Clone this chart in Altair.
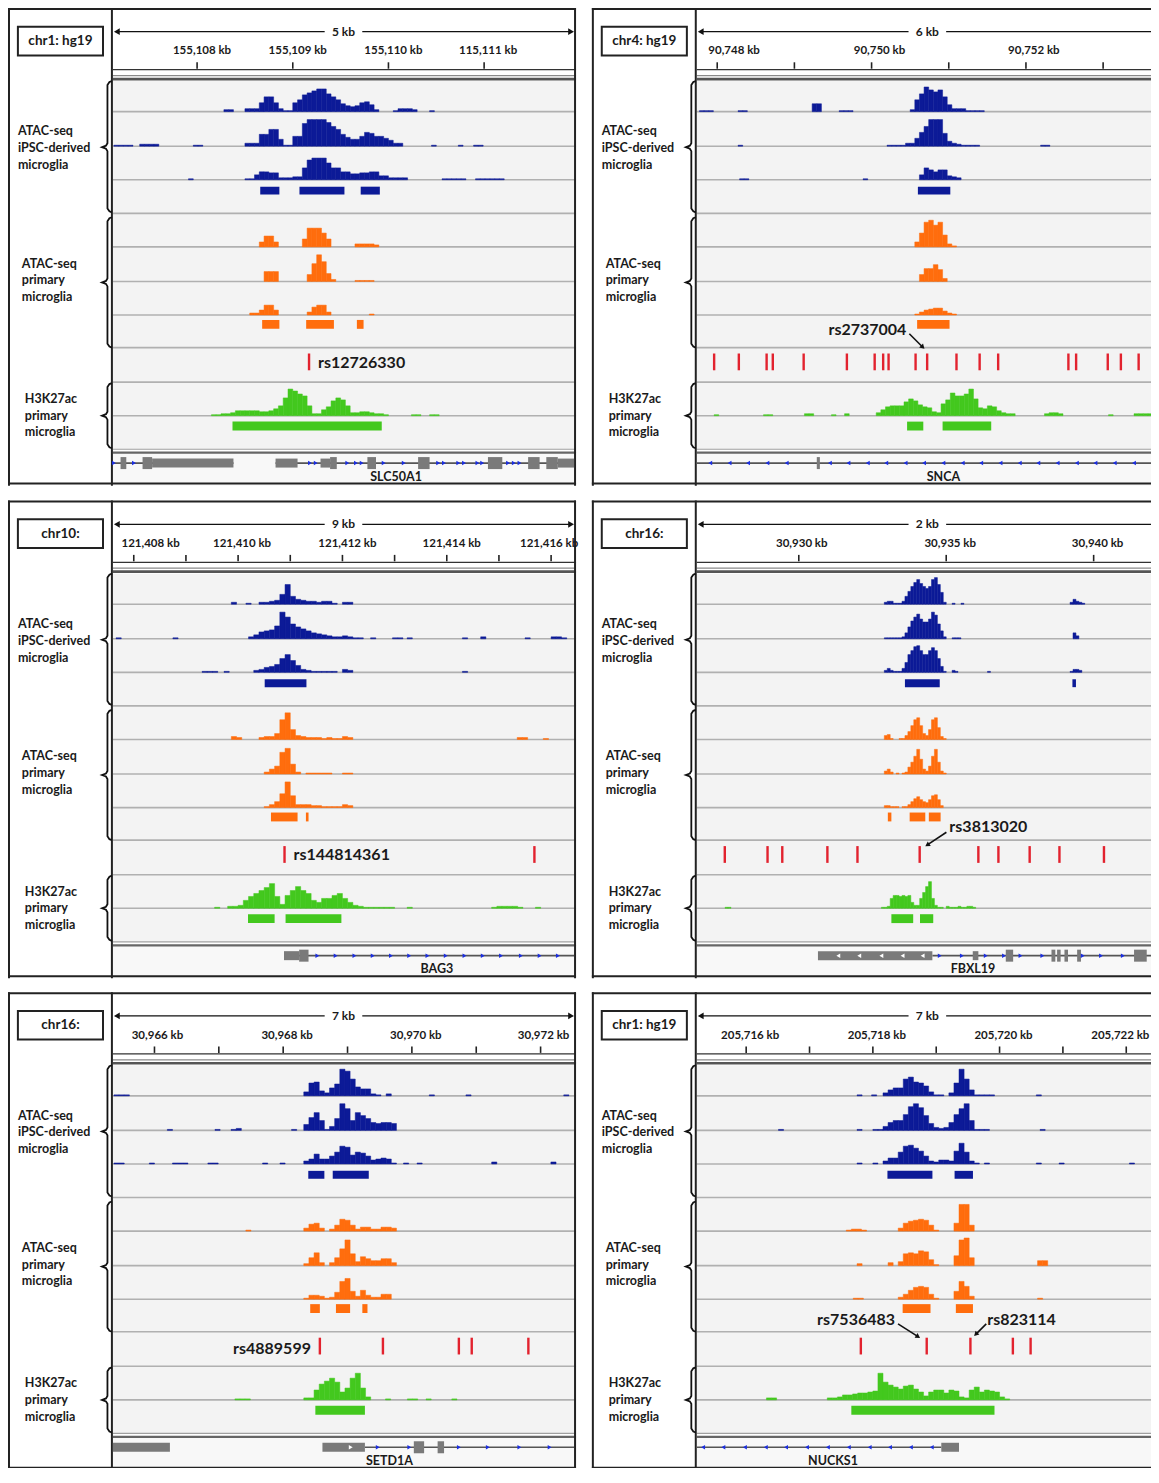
import math
import altair as alt
import pandas as pd

# ============================ DATA ============================
# ---------- panel 1 : chr1 / SLC50A1 ----------
P1_CHROM = "chr1: hg19"
P1_SPAN = "5 kb"
P1_DOMAIN = [155107.12, 155111.94]
P1_TICKS = [155108, 155109, 155110, 155111]
P1_LABEL_TICKS = [155108, 155109, 155110, 155111]
P1_TICK_LABELS = ["155,108 kb", "155,109 kb", "155,110 kb", "115,111 kb"]
P1_BIN = 0.05
P1_BLUE1 = [(155108.28, [2, 2]),
            (155108.50, [3, 3, 3, 9, 15, 15, 9, 3, 1, 1, 9, 12, 17, 19, 21, 23, 23, 18, 15, 12, 8, 6, 5, 6, 9, 10, 7, 2]),
            (155110.05, [1, 3, 3, 3, 2]), (155110.43, [1])]
P1_BLUE2 = [(155107.13, [1, 1, 1, 1]), (155107.40, [2, 2, 2, 2]), (155107.96, [1, 1]),
            (155108.50, [3, 3, 3, 12, 12, 17, 17, 7, 1, 1, 10, 10, 23, 27, 27, 27, 27, 24, 20, 17, 12, 9, 7, 7, 10, 14, 13, 10, 10, 8, 6, 3, 3]),
            (155110.45, [1]), (155110.73, [1]), (155110.89, [1, 1])]
P1_BLUE3 = [(155107.91, [1]),
            (155108.50, [1, 1, 5, 8, 8, 7, 7, 2, 2, 2, 3, 3, 12, 20, 22, 22, 22, 17, 12, 12, 8, 8, 6, 6, 7, 7, 8, 8, 4, 4, 2, 2, 2, 2]),
            (155110.56, [1, 1, 1, 1, 1]), (155110.91, [1, 1, 1, 1, 1, 1])]
P1_ORANGE1 = [(155108.65, [5, 11, 11, 5]), (155109.10, [8, 19, 19, 19, 14, 8]), (155109.65, [3, 3, 3, 3, 2])]
P1_ORANGE2 = [(155108.70, [10, 10, 10]), (155109.15, [7, 18, 27, 20, 8, 2]), (155109.65, [1, 1, 1, 1])]
P1_ORANGE3 = [(155108.55, [2, 2, 5, 10, 10, 5]), (155109.15, [3, 8, 10, 10, 3]), (155109.80, [1])]
P1_GREEN = [(155108.15, [1, 1, 2, 2, 3, 5, 5, 5, 5, 5, 4, 4, 5, 7, 10, 18, 27, 25, 22, 20, 10, 2, 2, 6, 9, 15, 18, 16, 10, 3, 3, 4, 4, 3, 2, 2, 1]),
            (155110.24, [1, 1]), (155110.43, [1, 1])]
P1_PEAKS_BLUE = [(155108.66, 155108.86), (155109.07, 155109.54), (155109.71, 155109.91)]
P1_PEAKS_ORANGE = [(155108.68, 155108.86), (155109.14, 155109.43), (155109.67, 155109.74)]
P1_PEAKS_GREEN = [(155108.37, 155109.93)]
P1_SNPS = [155109.17]
P1_SNP_LABELS = [(155109.17, "rs12726330")]
P1_GENE_LINES = [(155107.12, 155108.38), (155108.82, 155111.94)]
P1_EXONS_TALL = [(155107.20, 155107.26), (155107.43, 155107.53), (155109.39, 155109.46), (155109.78, 155109.87),
                 (155110.31, 155110.43), (155111.04, 155111.19), (155111.46, 155111.58), (155111.65, 155111.77)]
P1_EXONS_MID = [(155107.53, 155108.38), (155108.82, 155109.05), (155109.29, 155109.39), (155111.77, 155111.94)]
P1_ARROWS_RIGHT = [155107.13, 155107.34, 155109.18, 155109.24, 155109.57, 155109.66, 155109.72, 155109.95, 155110.16,
                   155110.52, 155110.58, 155110.73, 155110.79, 155110.93, 155110.98, 155111.25, 155111.31, 155111.37]
P1_ARROWS_LEFT = []
P1_CHEVRONS_RIGHT = []
P1_CHEVRONS_LEFT = []
P1_GENE_NAME = ("SLC50A1", 155110.08)

# ---------- panel 2 : chr4 / SNCA ----------
P2_CHROM = "chr4: hg19"
P2_SPAN = "6 kb"
P2_DOMAIN = [90747.735, 90753.71]
P2_TICKS = [90748, 90749, 90750, 90751, 90752, 90753]
P2_LABEL_TICKS = [90748, 90750, 90752]
P2_TICK_LABELS = ["90,748 kb", "90,750 kb", "90,752 kb"]
P2_BIN = 0.06
P2_BLUE1 = [(90747.77, [1, 1, 1]), (90748.27, [1, 1]), (90749.23, [8, 8]), (90749.58, [1, 1, 1]),
            (90750.50, [2, 12, 18, 25, 22, 20, 22, 15, 7, 3, 3, 3, 1, 1, 1, 1])]
P2_BLUE2 = [(90748.27, [1]), (90750.20, [1, 1, 1, 1, 3, 3, 8, 14, 20, 27, 27, 27, 13, 5, 3, 2, 1, 1, 1, 1]),
            (90752.19, [1, 1])]
P2_BLUE3 = [(90748.29, [1, 1]), (90749.89, [1]), (90750.62, [5, 12, 10, 8, 10, 10, 4, 3, 2]), (90753.62, [1])]
P2_ORANGE1 = [(90750.56, [5, 14, 25, 27, 22, 25, 12, 3, 1])]
P2_ORANGE2 = [(90750.62, [7, 13, 13, 17, 12, 3])]
P2_ORANGE3 = [(90750.56, [1, 3, 5, 6, 7, 7, 4, 2, 1])]
P2_GREEN = [(90747.96, [1]), (90748.60, [1, 1]), (90749.13, [2, 2]), (90749.48, [1]), (90749.65, [2]),
            (90750.06, [3, 6, 9, 10, 10, 10, 14, 17, 15, 11, 9, 8, 4, 3, 12, 16, 23, 20, 20, 22, 27, 17, 8, 7, 10, 9, 5, 3, 2, 2]),
            (90752.24, [2, 3, 3, 2]), (90753.07, [1]), (90753.40, [2, 2, 2, 2, 2])]
P2_PEAKS_BLUE = [(90750.60, 90751.02)]
P2_PEAKS_ORANGE = [(90750.59, 90751.01)]
P2_PEAKS_GREEN = [(90750.46, 90750.67), (90750.92, 90751.55)]
P2_SNPS = [90747.96, 90748.28, 90748.64, 90748.72, 90749.12, 90749.68, 90750.04, 90750.15, 90750.22, 90750.57,
           90750.72, 90751.10, 90751.40, 90751.64, 90752.55, 90752.65, 90753.06, 90753.23, 90753.46]
P2_SNP_LABELS = [(90750.72, "rs2737004")]
P2_GENE_LINES = [(90747.735, 90753.71)]
P2_EXONS_TALL = [(90749.29, 90749.33)]
P2_EXONS_MID = []
P2_ARROWS_RIGHT = []
P2_ARROWS_LEFT = [90747.91, 90748.16, 90748.40, 90748.65, 90748.90, 90749.46, 90749.70, 90749.95, 90750.19, 90750.44,
                  90750.68, 90750.93, 90751.18, 90751.42, 90751.67, 90751.92, 90752.16, 90752.41, 90752.66, 90752.90,
                  90753.15, 90753.40, 90753.65]
P2_CHEVRONS_RIGHT = []
P2_CHEVRONS_LEFT = []
P2_GENE_NAME = ("SNCA", 90750.93)

# ---------- panel 3 : chr10 / BAG3 ----------
P3_CHROM = "chr10:"
P3_SPAN = "9 kb"
P3_DOMAIN = [121407.60, 121416.44]
P3_TICKS = [121408, 121409, 121410, 121411, 121412, 121413, 121414, 121415, 121416]
P3_LABEL_TICKS = [121408, 121410, 121412, 121414, 121416]
P3_TICK_LABELS = ["121,408 kb", "121,410 kb", "121,412 kb", "121,414 kb", "121,416 kb"]
P3_BIN = 0.1
P3_BLUE1 = [(121409.87, [2]), (121410.15, [1]),
            (121410.40, [2, 2, 3, 4, 10, 20, 8, 5, 4, 3, 3, 2, 3, 3, 1, 0, 2, 2])]
P3_BLUE2 = [(121407.66, [1]), (121408.75, [1]),
            (121410.20, [2, 4, 7, 8, 9, 13, 27, 22, 15, 12, 10, 8, 6, 5, 4, 3, 2, 2, 3, 2, 1, 1]),
            (121412.54, [1]), (121412.96, [1, 1]), (121413.24, [1]), (121414.30, [1]), (121414.65, [2]),
            (121415.50, [1]), (121416.00, [2, 2, 1])]
P3_BLUE3 = [(121409.31, [1, 1, 1]), (121409.73, [1]),
            (121410.30, [2, 3, 5, 6, 8, 14, 18, 12, 7, 3, 2, 1, 1, 1, 1, 1, 0, 3, 2]), (121414.30, [1])]
P3_ORANGE1 = [(121409.87, [3, 2]), (121410.40, [2, 3, 3, 6, 20, 27, 10, 4, 3, 2, 2, 2, 1, 2, 1, 1, 3, 2]),
              (121415.35, [2, 2]), (121415.85, [1])]
P3_ORANGE2 = [(121410.50, [2, 5, 8, 22, 26, 10, 2, 0, 1, 1, 1, 1, 1, 0, 0, 1, 1])]
P3_ORANGE3 = [(121410.50, [1, 3, 6, 14, 26, 12, 3, 3, 3, 2, 2, 1, 1, 1, 1, 3, 2])]
P3_GREEN = [(121409.55, [1]),
            (121409.80, [2, 2, 3, 8, 12, 15, 18, 21, 25, 12, 4, 13, 18, 22, 18, 15, 8, 6, 10, 10, 13, 15, 10, 6, 3, 2, 1, 1, 1, 1, 1, 1]),
            (121413.24, [1]), (121414.86, [1, 2, 2, 2, 2, 1]), (121415.70, [1])]
P3_PEAKS_BLUE = [(121410.51, 121411.31)]
P3_PEAKS_ORANGE = [(121410.63, 121411.14), (121411.30, 121411.35)]
P3_PEAKS_GREEN = [(121410.19, 121410.70), (121410.91, 121411.98)]
P3_SNPS = [121410.89, 121415.68]
P3_SNP_LABELS = [(121410.89, "rs144814361")]
P3_GENE_LINES = [(121410.88, 121416.44)]
P3_EXONS_TALL = [(121411.17, 121411.35)]
P3_EXONS_MID = [(121410.88, 121411.17)]
P3_ARROWS_RIGHT = [121411.52, 121411.87, 121412.23, 121412.58, 121412.93, 121413.28, 121413.63, 121413.98,
                   121414.34, 121414.69, 121415.04, 121415.42, 121415.78, 121416.13]
P3_ARROWS_LEFT = []
P3_CHEVRONS_RIGHT = []
P3_CHEVRONS_LEFT = []
P3_GENE_NAME = ("BAG3", 121413.81)

# ---------- panel 4 : chr16 / FBXL19 ----------
P4_CHROM = "chr16:"
P4_SPAN = "2 kb"
P4_DOMAIN = [30926.54, 30942.18]
P4_TICKS = [30930, 30935, 30940]
P4_LABEL_TICKS = [30930, 30935, 30940]
P4_TICK_LABELS = ["30,930 kb", "30,935 kb", "30,940 kb"]
P4_BIN = 0.1
P4_BLUE1 = [(30932.90, [2, 3, 3, 1, 1, 1, 3, 8, 13, 18, 22, 25, 21, 18, 16, 18, 25, 27, 20, 12, 2, 0, 0, 1, 0, 0, 1]),
            (30939.20, [2, 5, 3, 2, 1])]
P4_BLUE2 = [(30932.90, [1, 1, 1, 1, 1, 1, 2, 6, 12, 18, 22, 25, 20, 17, 17, 20, 27, 24, 15, 8, 2, 0, 0, 1, 1, 1]),
            (30939.30, [6, 3])]
P4_BLUE3 = [(30932.90, [2, 4, 2, 1, 1, 1, 4, 10, 18, 22, 26, 27, 22, 18, 18, 22, 25, 22, 14, 6, 1, 0, 0, 2, 1]),
            (30936.40, [1]), (30939.20, [1, 3, 3, 2])]
P4_ORANGE1 = [(30932.90, [4, 5, 1, 0, 0, 1, 1, 4, 8, 14, 20, 22, 14, 6, 4, 10, 20, 22, 12, 3, 1])]
P4_ORANGE2 = [(30932.90, [3, 5, 2, 0, 1, 0, 1, 2, 7, 12, 18, 25, 15, 5, 3, 8, 18, 25, 12, 3, 1])]
P4_ORANGE3 = [(30932.90, [2, 2, 1, 1, 1, 0, 1, 1, 3, 6, 9, 11, 8, 6, 5, 8, 12, 13, 8, 2])]
P4_GREEN = [(30927.50, [1, 1]),
            (30932.80, [1, 1, 2, 10, 13, 13, 12, 13, 12, 13, 6, 3, 3, 10, 16, 22, 27, 10, 3, 1, 1, 0, 2, 1, 1, 1, 2, 1, 1, 2, 2, 1])]
P4_PEAKS_BLUE = [(30933.60, 30934.78), (30939.28, 30939.40)]
P4_PEAKS_ORANGE = [(30933.02, 30933.14), (30933.76, 30934.29), (30934.41, 30934.81)]
P4_PEAKS_GREEN = [(30933.14, 30933.88), (30934.11, 30934.56)]
P4_SNPS = [30927.49, 30928.94, 30929.44, 30930.97, 30931.99, 30934.10, 30936.09, 30936.77, 30937.83, 30938.84, 30940.35]
P4_SNP_LABELS = [(30934.10, "rs3813020")]
P4_GENE_LINES = [(30934.53, 30942.18)]
P4_EXONS_TALL = [(30937.02, 30937.27), (30938.57, 30938.70), (30938.76, 30938.88), (30939.01, 30939.13),
                 (30939.44, 30939.57), (30941.37, 30941.80)]
P4_EXONS_MID = [(30930.65, 30934.53), (30935.90, 30936.09)]
P4_ARROWS_RIGHT = [30934.78, 30935.53, 30936.34, 30936.96, 30937.52, 30938.26, 30939.63, 30940.25, 30940.99, 30942.05]
P4_ARROWS_LEFT = []
P4_CHEVRONS_RIGHT = []
P4_CHEVRONS_LEFT = [30931.34, 30932.05, 30932.80, 30933.52, 30934.20]
P4_GENE_NAME = ("FBXL19", 30935.91)

# ---------- panel 5 : chr16 / SETD1A ----------
P5_CHROM = "chr16:"
P5_SPAN = "7 kb"
P5_DOMAIN = [30965.354, 30972.52]
P5_TICKS = [30966, 30967, 30968, 30969, 30970, 30971, 30972]
P5_LABEL_TICKS = [30966, 30968, 30970, 30972]
P5_TICK_LABELS = ["30,966 kb", "30,968 kb", "30,970 kb", "30,972 kb"]
P5_BIN = 0.08
P5_BLUE1 = [(30965.37, [1, 1, 1]),
            (30968.32, [4, 13, 14, 5, 3, 8, 12, 27, 25, 17, 9, 7, 7, 2, 1, 0, 2]),
            (30970.27, [1]), (30970.84, [1]), (30972.36, [1])]
P5_BLUE2 = [(30966.20, [1]), (30966.94, [1]), (30967.19, [1, 2]), (30968.13, [1]),
            (30968.32, [6, 13, 18, 10, 1, 4, 12, 27, 22, 10, 18, 15, 12, 8, 7, 8, 8, 7])]
P5_BLUE3 = [(30965.37, [1, 1]), (30965.92, [1]), (30966.28, [1, 1, 1]), (30966.83, [1, 1]), (30967.68, [1]),
            (30967.95, [1]), (30968.32, [3, 5, 10, 5, 5, 8, 12, 18, 17, 9, 12, 11, 8, 4, 5, 6, 5, 1]),
            (30969.87, [1]), (30970.08, [1]), (30971.24, [2]), (30972.16, [2])]
P5_ORANGE1 = [(30967.42, [1]), (30968.32, [3, 7, 8, 3, 0, 2, 6, 12, 11, 6, 2, 4, 4, 2, 2, 4, 4, 3])]
P5_ORANGE2 = [(30968.32, [2, 8, 13, 3, 0, 3, 8, 17, 26, 12, 4, 9, 7, 5, 5, 7, 7, 3])]
P5_ORANGE3 = [(30968.32, [1, 4, 4, 3, 1, 2, 7, 18, 21, 8, 3, 9, 4, 2, 2, 5, 5])]
P5_GREEN = [(30967.25, [1, 1, 1]), (30968.32, [2, 2, 10, 16, 19, 22, 18, 8, 12, 22, 27, 12, 3]),
            (30969.59, [1]), (30969.93, [1, 1]), (30970.22, [1]), (30970.62, [1])]
P5_PEAKS_BLUE = [(30968.39, 30968.64), (30968.77, 30969.33)]
P5_PEAKS_ORANGE = [(30968.42, 30968.57), (30968.82, 30969.04), (30969.23, 30969.31)]
P5_PEAKS_GREEN = [(30968.50, 30969.27)]
P5_SNPS = [30968.57, 30969.55, 30970.73, 30970.93, 30971.81]
P5_SNP_LABELS = [(30968.57, "rs4889599")]
P5_GENE_LINES = [(30969.27, 30972.52)]
P5_EXONS_TALL = [(30970.03, 30970.19), (30970.40, 30970.50)]
P5_EXONS_MID = [(30965.354, 30966.24), (30968.61, 30969.27)]
P5_ARROWS_RIGHT = [30969.47, 30969.96, 30970.73, 30971.18, 30971.67, 30972.14]
P5_ARROWS_LEFT = []
P5_CHEVRONS_RIGHT = [30969.05]
P5_CHEVRONS_LEFT = []
P5_GENE_NAME = ("SETD1A", 30969.65)

# ---------- panel 6 : chr1 / NUCKS1 ----------
P6_CHROM = "chr1: hg19"
P6_SPAN = "7 kb"
P6_DOMAIN = [205715.22, 205722.50]
P6_TICKS = [205716, 205717, 205718, 205719, 205720, 205721, 205722]
P6_LABEL_TICKS = [205716, 205718, 205720, 205722]
P6_TICK_LABELS = ["205,716 kb", "205,718 kb", "205,720 kb", "205,722 kb"]
P6_BIN = 0.08
P6_BLUE1 = [(205717.75, [1]), (205717.98, [1]),
            (205718.16, [3, 6, 8, 8, 17, 19, 14, 13, 10, 4, 1, 1, 0, 3, 13, 27, 17, 6, 1, 1, 1, 1]),
            (205720.58, [1])]
P6_BLUE2 = [(205716.51, [1]), (205717.75, [1]),
            (205718.00, [1, 1, 4, 8, 10, 10, 16, 24, 27, 23, 15, 7, 3, 2, 3, 8, 16, 22, 27, 10, 1, 1, 1]),
            (205720.64, [1])]
P6_BLUE3 = [(205717.75, [1]), (205718.00, [1]),
            (205718.16, [3, 6, 6, 12, 18, 19, 16, 13, 8, 3, 2, 4, 4, 3, 13, 21, 12, 3, 1]),
            (205719.76, [1]), (205720.58, [1]), (205720.94, [1]), (205722.05, [1])]
P6_ORANGE1 = [(205717.58, [1, 2, 2, 1]), (205718.40, [3, 8, 10, 11, 12, 11, 6, 1, 0, 0, 0, 8, 27, 27, 6])]
P6_ORANGE2 = [(205717.75, [2]), (205718.24, [3]), (205718.40, [4, 12, 13, 12, 15, 14, 6, 1, 0, 0, 0, 10, 26, 28, 8]),
              (205720.60, [5, 5])]
P6_ORANGE3 = [(205717.69, [1, 1]), (205718.40, [2, 5, 9, 12, 13, 12, 5, 1, 0, 0, 0, 8, 18, 13, 3]), (205720.60, [1])]
P6_GREEN = [(205716.32, [2, 2]),
            (205717.28, [2, 2, 3, 5, 5, 6, 7, 7, 8, 9, 27, 18, 15, 13, 11, 14, 15, 11, 8, 4, 8, 10, 10, 7, 10, 9, 3, 2,
                         10, 13, 8, 10, 9, 8, 3, 1])]
P6_PEAKS_BLUE = [(205718.23, 205718.94), (205719.29, 205719.58)]
P6_PEAKS_ORANGE = [(205718.47, 205718.91), (205719.31, 205719.58)]
P6_PEAKS_GREEN = [(205717.66, 205719.92)]
P6_SNPS = [205717.81, 205718.85, 205719.54, 205720.21, 205720.49]
P6_SNP_LABELS = [(205718.85, "rs7536483"), (205719.54, "rs823114")]
P6_GENE_LINES = [(205715.22, 205719.08)]
P6_EXONS_TALL = []
P6_EXONS_MID = [(205719.08, 205719.36)]
P6_ARROWS_RIGHT = []
P6_ARROWS_LEFT = [205715.32, 205715.64, 205715.98, 205716.31, 205716.63, 205716.96, 205717.29, 205717.62,
                  205717.95, 205718.27, 205718.60, 205718.93]
P6_CHEVRONS_RIGHT = []
P6_CHEVRONS_LEFT = []
P6_GENE_NAME = ("NUCKS1", 205717.37)

GROUP_LABELS = [["ATAC-seq", "iPSC-derived", "microglia"],
                ["ATAC-seq", "primary", "microglia"],
                ["H3K27ac", "primary", "microglia"]]

# ============================ STYLE / LAYOUT ============================
FONT = "Lato"
BLUE = "#0c1a97"
ORANGE = "#ff6d0d"
GREEN = "#43c81e"
RED = "#e2222e"
GENE_BLUE = "#1b2ee0"
GENE_GRAY = "#7a7a7a"
LINE_GRAY = "#b0b0b0"
TXT = "#1a1a1a"
TRACK_BG = "#f3f3f3"

W, H = 1143, 1460                 # whole canvas (fits the page)
SX = W / 1155.0                   # compression of the reference layout
SY = H / 1479.0
COL_X = [0, 590]                  # panel origins (reference layout pixels)
ROW_Y = [0, 499, 997]
PW, PH = 574, 484                 # panel frame size
DIV_X = 105
TX0, TX1 = 106, 572
BASE = {"b1": 105, "b2": 140, "b3": 174, "o1": 242, "o2": 277, "o3": 311, "g1": 413}
SEPS = [105, 140, 174, 208, 242, 277, 311, 344, 379, 413]
PEAK_ROW = {"b": (181, 189), "o": (316, 325), "g": (419, 428)}
SNP_ROW = (350, 367)
GENE_Y = 461
GENE_NAME_Y = 475
BRACES = [(74, 141, 207), (212, 278, 344), (380, 413, 446)]
GROUP_X = [10, 14, 17]
GROUP_Y = [[125, 142, 159], [259, 276, 293], [396, 413, 430]]
LABEL_DX = [[5, 5, 5, 4], [17, 8, 8], [17, 4, 5, 5, -2], [3, 4, 4], [3, 4, 4, 3], [4, 4, 4, -6]]
# annotation layout: align, text dx, text y, arrow (dx1, y1, dx2, y2)
ANNOT = {"rs12726330": ("left", 9, 360, None),
         "rs2737004": ("right", -21, 326, (-18, 330, -3, 345)),
         "rs144814361": ("left", 9, 359, None),
         "rs3813020": ("left", 30, 331, (27, 336, 6, 350)),
         "rs4889599": ("right", -9, 361, None),
         "rs7536483": ("right", -32, 332, (-29, 336, -7, 350)),
         "rs823114": ("left", 17, 332, (16, 336, 4, 348))}

KEYS = ["CHROM", "SPAN", "DOMAIN", "TICKS", "LABEL_TICKS", "TICK_LABELS", "BIN", "BLUE1", "BLUE2", "BLUE3",
        "ORANGE1", "ORANGE2", "ORANGE3", "GREEN", "PEAKS_BLUE", "PEAKS_ORANGE", "PEAKS_GREEN", "SNPS",
        "SNP_LABELS", "GENE_LINES", "EXONS_TALL", "EXONS_MID", "ARROWS_RIGHT", "ARROWS_LEFT",
        "CHEVRONS_RIGHT", "CHEVRONS_LEFT", "GENE_NAME"]
PANELS = [{k: globals()["P%d_%s" % (i, k)] for k in KEYS} for i in range(1, 7)]

PX = alt.X("x:Q", scale=None, axis=None)
PY = alt.Y("y:Q", scale=None, axis=None)
C = alt.Color("c:N", scale=None)


def S(v):
    return v * SY


def X(v):
    return v * SX


def runs_rows(runs, bw, base, color):
    rows = []
    for start, hs in runs:
        for j, h in enumerate(hs):
            if h > 0:
                x0 = start + j * bw
                rows.append({"x": x0, "x2": x0 + bw, "y": S(base - h), "y2": S(base), "c": color})
    return rows


# ---------- decorations (pixel space, all panels at once) ----------
bg, rules, braces, spanbg, spanpts, spantxt, chrbox, chrtxt, grouptxt = [], [], [], [], [], [], [], [], []
for i, p in enumerate(PANELS):
    ox, oy = COL_X[i % 2], ROW_Y[i // 2]
    bg += [{"x": X(ox), "x2": X(ox + PW), "y": S(oy), "y2": S(oy + PH), "c": "white"},
           {"x": X(ox + TX0), "x2": X(ox + PW), "y": S(oy + 74), "y2": S(oy + 447), "c": TRACK_BG},
           {"x": X(ox + TX0), "x2": X(ox + PW), "y": S(oy + 451), "y2": S(oy + PH), "c": "#f8f8f8"}]
    ln = [(TX0, PW, y, y, LINE_GRAY, 1.6) for y in SEPS]
    ln += [(TX0, PW, 447, 447, "#a0a0a0", 1.2), (TX0, PW, 450.5, 450.5, "#666666", 2.2),
           (TX0, PW, 62.5, 62.5, "#333333", 1.3), (TX0, PW, 68.5, 68.5, "#8a8a8a", 1.2),
           (TX0, PW, 72, 72, "#555555", 2.6), (109, 569, 24, 24, "#111111", 1.3),
           (DIV_X, DIV_X, 0, PH, "#222222", 2), (1, 1, 0, PH, "#222222", 2),
           (PW - 1, PW - 1, 0, PH, "#222222", 2), (0, PW, 1, 1, "#222222", 2),
           (0, PW, PH - 2.2, PH - 2.2, "#222222", 2)]
    for a, b, c, d, col, w in ln:
        rules.append({"x": X(ox + a), "x2": X(ox + b), "y": S(oy + c), "y2": S(oy + d), "c": col, "w": w})
    for bi, (top, tip, bot) in enumerate(BRACES):
        bx = [105, 102.5, 100.5, 100.5, 99, 95, 99, 100.5, 100.5, 102.5, 105]
        by = [top, top + 1, top + 4, tip - 4, tip - 1.5, tip, tip + 1.5, tip + 4, bot - 4, bot - 1, bot]
        for o, (a, c) in enumerate(zip(bx, by)):
            braces.append({"id": "%d-%d" % (i, bi), "o": o, "x": X(ox + a), "y": S(oy + c)})
    mid = ox + (TX0 + TX1) / 2
    spanbg.append({"x": X(mid - 19), "x2": X(mid + 19), "y": S(oy + 16), "y2": S(oy + 32)})
    spanpts += [{"x": X(ox + 110), "y": S(oy + 24), "s": "triangle-left"},
                {"x": X(ox + 569), "y": S(oy + 24), "s": "triangle-right"}]
    spantxt.append({"x": X(mid), "y": S(oy + 24), "t": p["SPAN"]})
    chrbox.append({"x": X(ox + 10), "x2": X(ox + 96), "y": S(oy + 19), "y2": S(oy + 48)})
    chrtxt.append({"x": X(ox + 53), "y": S(oy + 33.5), "t": p["CHROM"]})
    for g in range(3):
        for k in range(3):
            grouptxt.append({"x": X(ox + GROUP_X[g]), "y": S(oy + GROUP_Y[g][k]), "t": GROUP_LABELS[g][k]})

L = []
L.append(alt.Chart(pd.DataFrame(bg)).mark_rect().encode(x=PX, x2="x2:Q", y=PY, y2="y2:Q", color=C))
L.append(alt.Chart(pd.DataFrame(rules)).mark_rule().encode(
    x=PX, x2="x2:Q", y=PY, y2="y2:Q", color=C, strokeWidth=alt.StrokeWidth("w:Q", scale=None)))
L.append(alt.Chart(pd.DataFrame(braces)).mark_line(color="#111111", strokeWidth=1.8).encode(
    x=PX, y=PY, detail="id:N", order="o:Q"))
L.append(alt.Chart(pd.DataFrame(spanbg)).mark_rect(color="white").encode(x=PX, x2="x2:Q", y=PY, y2="y2:Q"))
L.append(alt.Chart(pd.DataFrame(spanpts)).mark_point(filled=True, color="#111111", size=45, opacity=1).encode(
    x=PX, y=PY, shape=alt.Shape("s:N", scale=None)))
L.append(alt.Chart(pd.DataFrame(spantxt)).mark_text(
    font=FONT, fontWeight="bold", fontSize=12, color=TXT, baseline="middle").encode(x=PX, y=PY, text="t:N"))
L.append(alt.Chart(pd.DataFrame(chrbox)).mark_rect(fill="white", stroke="#222222", strokeWidth=2).encode(
    x=PX, x2="x2:Q", y=PY, y2="y2:Q"))
L.append(alt.Chart(pd.DataFrame(chrtxt)).mark_text(
    font=FONT, fontWeight="bold", fontSize=13.5, color=TXT, baseline="middle").encode(x=PX, y=PY, text="t:N"))
L.append(alt.Chart(pd.DataFrame(grouptxt)).mark_text(
    font=FONT, fontWeight="bold", fontSize=12.5, color=TXT, align="left", baseline="middle").encode(
    x=PX, y=PY, text="t:N"))

# ---------- data layers (genomic x scale per panel) ----------
for i, p in enumerate(PANELS):
    ox, oy = COL_X[i % 2], ROW_Y[i // 2]
    dom = p["DOMAIN"]
    kbpx = (dom[1] - dom[0]) / (TX1 - TX0)
    GX = alt.X("x:Q", scale=alt.Scale(domain=dom, range=[X(ox + TX0), X(ox + TX1)], nice=False, zero=False),
               axis=None)

    L.append(alt.Chart(pd.DataFrame({"x": p["TICKS"], "y": S(oy + 55), "y2": S(oy + 61.5)})).mark_rule(
        color="#222222", strokeWidth=1.6).encode(x=GX, y=PY, y2="y2:Q"))
    tl = [{"x": t + d * kbpx, "y": S(oy + 44), "t": s}
          for t, s, d in zip(p["LABEL_TICKS"], p["TICK_LABELS"], LABEL_DX[i])]
    L.append(alt.Chart(pd.DataFrame(tl)).mark_text(
        font=FONT, fontWeight="bold", fontSize=11.5, color=TXT, baseline="middle").encode(x=GX, y=PY, text="t:N"))

    bw = p["BIN"]
    rows = []
    for key, col, name in [("b1", BLUE, "BLUE1"), ("b2", BLUE, "BLUE2"), ("b3", BLUE, "BLUE3"),
                           ("o1", ORANGE, "ORANGE1"), ("o2", ORANGE, "ORANGE2"), ("o3", ORANGE, "ORANGE3"),
                           ("g1", GREEN, "GREEN")]:
        rows += runs_rows(p[name], bw, oy + BASE[key], col)
    L.append(alt.Chart(pd.DataFrame(rows)).mark_rect(strokeWidth=0.5).encode(
        x=GX, x2="x2:Q", y=PY, y2="y2:Q", color=C, stroke=alt.Stroke("c:N", scale=None)))

    pk = []
    for key, col, name in [("b", BLUE, "PEAKS_BLUE"), ("o", ORANGE, "PEAKS_ORANGE"), ("g", GREEN, "PEAKS_GREEN")]:
        for a, b in p[name]:
            pk.append({"x": a, "x2": b, "y": S(oy + PEAK_ROW[key][0]), "y2": S(oy + PEAK_ROW[key][1]), "c": col})
    L.append(alt.Chart(pd.DataFrame(pk)).mark_rect().encode(x=GX, x2="x2:Q", y=PY, y2="y2:Q", color=C))

    L.append(alt.Chart(pd.DataFrame({"x": p["SNPS"], "y": S(oy + SNP_ROW[0]), "y2": S(oy + SNP_ROW[1])})).mark_rule(
        color=RED, strokeWidth=2.4).encode(x=GX, y=PY, y2="y2:Q"))

    gy = S(oy + GENE_Y)
    gln = pd.DataFrame([{"x": a, "x2": b, "y": gy} for a, b in p["GENE_LINES"]])
    L.append(alt.Chart(gln).mark_rule(color="#555555", strokeWidth=1.6).encode(x=GX, x2="x2:Q", y=PY))
    ex = [{"x": a, "x2": b, "y": gy - 6, "y2": gy + 6} for a, b in p["EXONS_TALL"]]
    ex += [{"x": a, "x2": b, "y": gy - 4.5, "y2": gy + 4.5} for a, b in p["EXONS_MID"]]
    L.append(alt.Chart(pd.DataFrame(ex)).mark_rect(color=GENE_GRAY).encode(x=GX, x2="x2:Q", y=PY, y2="y2:Q"))
    ar = [{"x": a, "y": gy, "s": "triangle-right", "c": GENE_BLUE} for a in p["ARROWS_RIGHT"]]
    ar += [{"x": a, "y": gy, "s": "triangle-left", "c": GENE_BLUE} for a in p["ARROWS_LEFT"]]
    ar += [{"x": a, "y": gy, "s": "triangle-right", "c": "white"} for a in p["CHEVRONS_RIGHT"]]
    ar += [{"x": a, "y": gy, "s": "triangle-left", "c": "white"} for a in p["CHEVRONS_LEFT"]]
    L.append(alt.Chart(pd.DataFrame(ar)).mark_point(filled=True, size=20, opacity=1).encode(
        x=GX, y=PY, color=C, shape=alt.Shape("s:N", scale=None)))
    gname, gpos = p["GENE_NAME"]
    L.append(alt.Chart(pd.DataFrame([{"x": gpos, "y": S(oy + GENE_NAME_Y), "t": gname}])).mark_text(
        font=FONT, fontWeight="bold", fontSize=12.5, color=TXT, baseline="middle").encode(x=GX, y=PY, text="t:N"))

    for pos, label in p["SNP_LABELS"]:
        align, tdx, ty, arrow = ANNOT[label]
        L.append(alt.Chart(pd.DataFrame([{"x": pos, "y": S(oy + ty), "t": label}])).mark_text(
            font=FONT, fontWeight="bold", fontSize=16, color=TXT, align=align, baseline="middle",
            dx=X(tdx)).encode(x=GX, y=PY, text="t:N"))
        if arrow is not None:
            ax1, ay1, ax2, ay2 = arrow
            ax1, ax2 = X(ax1), X(ax2)
            ay1, ay2 = S(oy + ay1), S(oy + ay2)
            ddx, ddy = ax2 - ax1, ay2 - ay1
            lnn = math.hypot(ddx, ddy)
            ex2, ey2 = ax2 - 3 * ddx / lnn, ay2 - 3 * ddy / lnn
            ang = (math.degrees(math.atan2(ddx, -ddy)) + 360) % 360
            L.append(alt.Chart(pd.DataFrame([{"x": pos, "x2": pos, "y": ay1, "y2": ey2}])).mark_rule(
                color="#111111", strokeWidth=1.6, xOffset=ax1, x2Offset=ex2).encode(
                x=GX, x2="x2:Q", y=PY, y2="y2:Q"))
            L.append(alt.Chart(pd.DataFrame([{"x": pos, "y": ay2 - 2 * ddy / lnn}])).mark_point(
                shape="triangle-up", filled=True, size=30, color="#111111", opacity=1, angle=ang,
                xOffset=ax2 - 2 * ddx / lnn).encode(x=GX, y=PY))

chart = alt.layer(*L).properties(
    width=W, height=H, padding=0, autosize=alt.AutoSizeParams(type="none")
).resolve_scale(x="independent", y="independent").configure_view(stroke=None)

chart.save("out.html", embed_options={"renderer": "svg", "actions": False})
